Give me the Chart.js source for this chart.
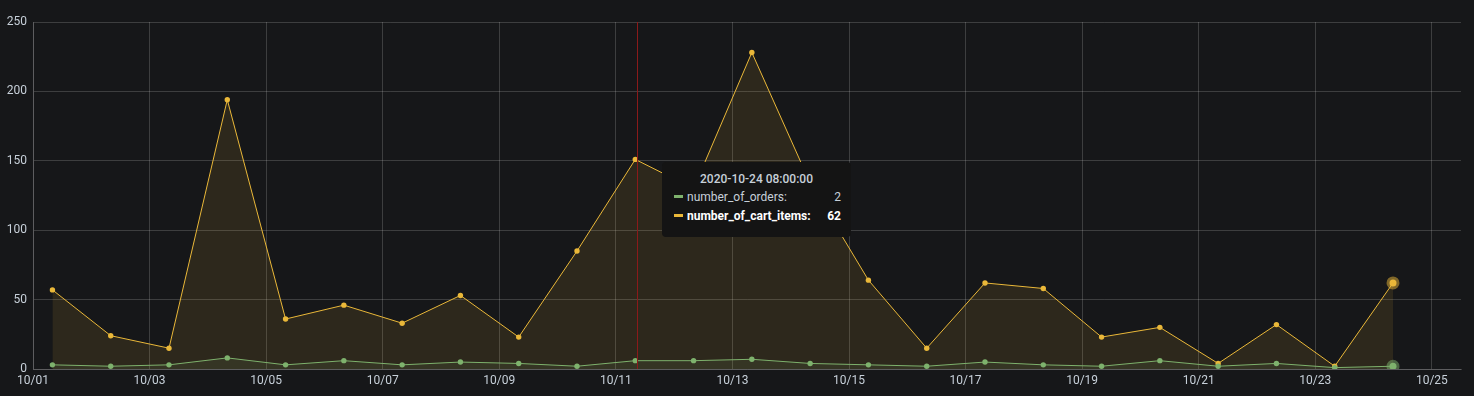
<!DOCTYPE html>
<html>
<head>
<meta charset="utf-8">
<script src="https://cdn.jsdelivr.net/npm/chart.js@4/dist/chart.umd.min.js"></script>
<style>
  body { margin: 0; background: #161719; }
  .wrap { position: relative; width: 1474px; height: 396px; }
  .tooltip {
    position: absolute; left: 662px; top: 162px; width: 189px; height: 75px;
    background: #141414; border-radius: 4px; box-sizing: border-box;
    font-family: Roboto, sans-serif; font-size: 12px; color: #c7d0d9;
  }
  .tooltip .title { text-align: center; font-weight: 500; margin-top: 9px; line-height: 16px; }
  .tooltip .row { display: flex; align-items: center; height: 19px; padding: 0 10px 0 12px; }
  .tooltip .row:first-of-type { margin-top: 7px; }
  .tooltip .mark { width: 9px; height: 3px; margin-right: 4px; }
  .tooltip .name { flex: 1; }
  .tooltip .bold { color: #ffffff; font-weight: 700; }
</style>
</head>
<body>
<div class="wrap">
  <canvas id="myChart" width="1474" height="396"></canvas>
  <div class="tooltip" id="tip"></div>
</div>
<script>
// one sample per day, 08:00
let times = [
  '2020-10-01 08:00:00', '2020-10-02 08:00:00', '2020-10-03 08:00:00', '2020-10-04 08:00:00',
  '2020-10-05 08:00:00', '2020-10-06 08:00:00', '2020-10-07 08:00:00', '2020-10-08 08:00:00',
  '2020-10-09 08:00:00', '2020-10-10 08:00:00', '2020-10-11 08:00:00', '2020-10-12 08:00:00',
  '2020-10-13 08:00:00', '2020-10-14 08:00:00', '2020-10-15 08:00:00', '2020-10-16 08:00:00',
  '2020-10-17 08:00:00', '2020-10-18 08:00:00', '2020-10-19 08:00:00', '2020-10-20 08:00:00',
  '2020-10-21 08:00:00', '2020-10-22 08:00:00', '2020-10-23 08:00:00', '2020-10-24 08:00:00'
];
let numberOfOrders = [3, 2, 3, 8, 3, 6, 3, 5, 4, 2, 6, 6, 7, 4, 3, 2, 5, 3, 2, 6, 2, 4, 1, 2];
let numberOfCartItems = [57, 24, 15, 194, 36, 46, 33, 53, 23, 85, 151, 130, 228, 134, 64, 15, 62, 58, 23, 30, 4, 32, 2, 62];
let yTicks = [0, 50, 100, 150, 200, 250];

let startTime = '2020-10-01 00:00:00';
let endTime = '2020-10-25 12:00:00';
let hoverIndex = 23; // tooltip row
let crosshairTime = '2020-10-11 08:00:00';

const green = '#7EB26D';
const yellow = '#EAB839';
const textColor = '#c7d0d9';
const gridColor = 'rgba(255,255,255,0.17)';

function toMs(s) {
  let [d, t] = s.split(' ');
  let [y, m, day] = d.split('-').map(Number);
  let [hh, mm, ss] = t.split(':').map(Number);
  return Date.UTC(y, m - 1, day, hh, mm, ss);
}
const DAY = 86400000;
function toDays(s) {
  return (toMs(s) - toMs(startTime)) / DAY;
}
function fmtTick(v) {
  let d = new Date(toMs(startTime) + v * DAY);
  let mm = String(d.getUTCMonth() + 1).padStart(2, '0');
  let dd = String(d.getUTCDate()).padStart(2, '0');
  return `${mm}/${dd}`;
}

let ordersPts = times.map((t, i) => ({ x: toDays(t), y: numberOfOrders[i] }));
let cartPts = times.map((t, i) => ({ x: toDays(t), y: numberOfCartItems[i] }));

function pointStyle(color, halo) {
  return {
    pointRadius: (c) => (c.dataIndex === hoverIndex ? 3.5 : 2.7),
    pointBorderWidth: (c) => (c.dataIndex === hoverIndex ? 6 : 0),
    pointBackgroundColor: color,
    pointBorderColor: halo,
    pointHoverRadius: 2.7,
  };
}

const crosshair = {
  id: 'crosshair',
  afterDatasetsDraw(chart) {
    let x = chart.scales.x.getPixelForValue(toDays(crosshairTime)) + 2;
    let a = chart.chartArea;
    let ctx = chart.ctx;
    ctx.save();
    ctx.strokeStyle = '#8a1a1a';
    ctx.lineWidth = 1;
    ctx.beginPath();
    ctx.moveTo(Math.round(x) + 0.5, a.top);
    ctx.lineTo(Math.round(x) + 0.5, a.bottom);
    ctx.stroke();
    ctx.restore();
  },
};

const ctx = document.getElementById('myChart');
new Chart(ctx, {
  type: 'line',
  data: {
    datasets: [
      {
        label: 'number_of_orders',
        data: ordersPts,
        borderColor: green,
        backgroundColor: 'rgba(126,178,109,0.1)',
        borderWidth: 1,
        fill: 'origin',
        tension: 0,
        ...pointStyle(green, 'rgba(126,178,109,0.5)'),
      },
      {
        label: 'number_of_cart_items',
        data: cartPts,
        borderColor: yellow,
        backgroundColor: 'rgba(234,184,57,0.11)',
        borderWidth: 1,
        fill: 'origin',
        tension: 0,
        ...pointStyle(yellow, 'rgba(234,184,57,0.5)'),
      },
    ],
  },
  options: {
    responsive: false,
    animation: false,
    events: [],
    layout: { padding: { top: 22, right: 13, left: 0, bottom: 0 } },
    plugins: { legend: { display: false }, tooltip: { enabled: false } },
    scales: {
      x: {
        type: 'linear',
        min: 0,
        max: toDays(endTime),
        afterFit: (s) => { s.height = 27; },
        grid: { color: gridColor, drawTicks: false },
        border: { color: gridColor },
        ticks: {
          stepSize: 2,
          includeBounds: false,
          maxRotation: 0,
          autoSkip: false,
          padding: 5,
          color: textColor,
          font: { family: 'Roboto', size: 12 },
          callback: (v) => fmtTick(v),
        },
      },
      y: {
        min: yTicks[0],
        max: yTicks[yTicks.length - 1],
        afterFit: (s) => { s.width = 33; },
        grid: { color: gridColor, drawTicks: false },
        border: { color: gridColor },
        ticks: {
          stepSize: yTicks[1] - yTicks[0],
          padding: 6,
          color: textColor,
          font: { family: 'Roboto', size: 12 },
        },
      },
    },
  },
  plugins: [crosshair],
});

function renderTooltip() {
  let tip = document.getElementById('tip');
  tip.innerHTML = `
    <div class="title">${times[hoverIndex]}</div>
    <div class="row"><span class="mark" style="background:${green}"></span><span class="name">number_of_orders:</span><span>${numberOfOrders[hoverIndex]}</span></div>
    <div class="row bold"><span class="mark" style="background:${yellow}"></span><span class="name">number_of_cart_items:</span><span>${numberOfCartItems[hoverIndex]}</span></div>`;
}
renderTooltip();
</script>
</body>
</html>
